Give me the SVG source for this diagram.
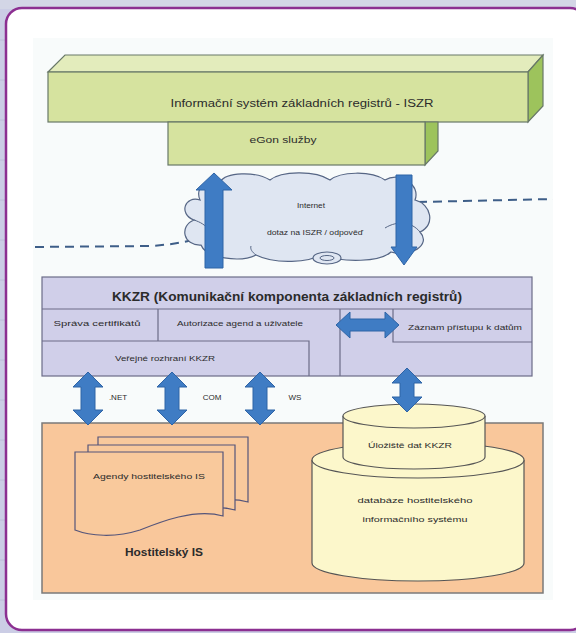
<svg xmlns="http://www.w3.org/2000/svg" width="576" height="633" viewBox="0 0 576 633">
<style>
text{font-family:"Liberation Sans",Arial,sans-serif;fill:#2b2b2b;text-anchor:middle}
.s{font-size:8px}
.b{font-weight:bold}
.arr{fill:#3f7cc4;stroke:#2f64a6;stroke-width:1}
.grn{fill:#d6e39f;stroke:#687868;stroke-width:1.2}
.kk{fill:#d0cfe9;stroke:#6c6c88;stroke-width:1.2;fill-opacity:1}
.ln{stroke:#6c6c88;stroke-width:1.2;fill:none}
.cyl{fill:#fcf7cb;stroke:#555;stroke-width:1.2}
.doc{fill:#f9c99c;stroke:#55557a;stroke-width:1.2}
.dash{fill:none;stroke:#3e5e88;stroke-width:2;stroke-dasharray:9 6}
</style>
<rect width="576" height="633" fill="#cbcde5"/>
<rect x="0" y="0" width="576" height="9" fill="#d3d6e6"/>
<g stroke="#b7b9d5" stroke-width="0.8">
<line x1="0" y1="40" x2="6" y2="40"/><line x1="0" y1="80" x2="6" y2="80"/><line x1="0" y1="120" x2="6" y2="120"/><line x1="0" y1="160" x2="6" y2="160"/><line x1="0" y1="200" x2="6" y2="200"/><line x1="0" y1="240" x2="6" y2="240"/><line x1="0" y1="280" x2="6" y2="280"/><line x1="0" y1="320" x2="6" y2="320"/><line x1="0" y1="360" x2="6" y2="360"/><line x1="0" y1="400" x2="6" y2="400"/><line x1="0" y1="440" x2="6" y2="440"/><line x1="0" y1="480" x2="6" y2="480"/><line x1="0" y1="520" x2="6" y2="520"/><line x1="0" y1="560" x2="6" y2="560"/><line x1="0" y1="600" x2="6" y2="600"/>
</g>
<rect x="6" y="8" width="580" height="622" rx="16" fill="#ffffff" stroke="#8c2f91" stroke-width="2.5"/>
<rect x="33" y="38" width="520" height="562" fill="#f8fbfb"/>

<g id="iszr">
<polygon class="grn" points="48,72 65,55 543,55 528,72" style="fill:#e3ecbc"/>
<polygon class="grn" points="528,72 543,55 543,106 528,122" style="fill:#9dc35c"/>
<rect class="grn" x="48" y="72" width="480" height="50"/>
<text x="302" y="107" font-size="10" textLength="263" lengthAdjust="spacingAndGlyphs">Informační systém základních registrů - ISZR</text>
</g>
<g id="egon">
<polygon class="grn" points="425,122 438,122 438,151 425,165" style="fill:#9dc35c"/>
<rect class="grn" x="168" y="122" width="257" height="43"/>
<text x="283" y="143" font-size="9" textLength="67" lengthAdjust="spacingAndGlyphs">eGon služby</text>
</g>

<g id="network">
<path class="dash" d="M35,247 L150,246 Q182,244 198,238"/>
<path class="dash" d="M418,202 L553,199"/>
</g>

<g id="internet">
<path d="M200,200 C185,195 178,214 194,220 C179,226 183,246 201,245 C206,258 240,263 256,255 C276,265 310,262 320,255 C345,263 380,262 391,252 C410,258 432,245 420,232 C436,225 431,204 415,200 C421,185 400,171 385,180 C370,170 340,172 330,180 C315,170 281,171 270,180 C255,171 226,172 220,182 C205,180 195,188 200,200 Z" fill="#dfe6f2" stroke="#566685" stroke-width="1.2"/>
<path d="M385,228 C398,220 412,222 420,232 M194,220 C200,222 206,225 208,230 M256,255 C252,252 250,249 251,246" fill="none" stroke="#566685" stroke-width="1"/>
<ellipse cx="327" cy="258" rx="14" ry="6" fill="#dfe6f2" stroke="#566685" stroke-width="1.2"/>
<ellipse cx="327" cy="258" rx="7" ry="2.5" fill="none" stroke="#566685" stroke-width="1"/>
<text class="s" x="311" y="208" textLength="28" lengthAdjust="spacingAndGlyphs">Internet</text>
<text class="s" x="315" y="235" textLength="96" lengthAdjust="spacingAndGlyphs">dotaz na ISZR / odpověď</text>
</g>

<g id="kkzr">
<rect class="kk" x="42" y="277" width="490" height="99"/>
<path class="ln" d="M42,309 H532 M158,309 V341 M42,341 H309 V376 M340,309 V376 M393,309 V342 H532"/>
<text class="b" x="287" y="301" font-size="12.5" textLength="350" lengthAdjust="spacingAndGlyphs">KKZR (Komunikační komponenta základních registrů)</text>
<text class="s" x="97" y="326" textLength="87" lengthAdjust="spacingAndGlyphs">Správa certifikátů</text>
<text class="s" x="240" y="326" textLength="126" lengthAdjust="spacingAndGlyphs">Autorizace agend a uživatele</text>
<text class="s" x="465" y="330" textLength="114" lengthAdjust="spacingAndGlyphs">Záznam přístupu k datům</text>
<text class="s" x="165" y="361" textLength="100" lengthAdjust="spacingAndGlyphs">Veřejné rozhraní KKZR</text>
</g>

<g id="hostitelsky-is">
<rect x="42" y="423" width="501" height="170" fill="#f9c79b" stroke="#7a7a7a" stroke-width="1.5"/>
<text class="b" x="164" y="556" font-size="11" textLength="78" lengthAdjust="spacingAndGlyphs">Hostitelský IS</text>
</g>

<g id="agendy">
<path class="doc" d="M98,437 H248 V502 C220,494 185,508 165,516 C140,524 115,522 98,516 Z"/>
<path class="doc" d="M88,445 H235 V510 C207,502 172,516 152,524 C128,532 104,530 88,524 Z"/>
<path class="doc" d="M75,452 H223 V516 C195,508 160,522 140,530 C115,538 90,536 75,530 Z"/>
<text class="s" x="149" y="479" textLength="112" lengthAdjust="spacingAndGlyphs">Agendy hostitelského IS</text>
</g>

<g id="databaze">
<path class="cyl" d="M312,460 V563 A106,18 0 0 0 524,563 V460"/>
<ellipse class="cyl" cx="418" cy="460" rx="106" ry="18"/>
<text class="s" x="415" y="503" textLength="115" lengthAdjust="spacingAndGlyphs">databáze hostitelského</text>
<text class="s" x="415" y="522" textLength="105" lengthAdjust="spacingAndGlyphs">informačního systému</text>
</g>

<g id="uloziste">
<path class="cyl" d="M343,416 V457 A71,12 0 0 0 485,457 V416"/>
<ellipse class="cyl" cx="414" cy="416" rx="71" ry="12"/>
<text class="s" x="410" y="448" textLength="84" lengthAdjust="spacingAndGlyphs">Úložiště dat KKZR</text>
</g>

<g id="connectors">
<polygon class="arr" points="214,173 232,190 223,190 223,268 205,268 205,190 196,190"/>
<polygon class="arr" points="396,175 412,175 412,247 417,247 404,265 391,247 396,247"/>
<polygon class="arr" points="336,325 350,312 350,319 385,319 385,312 399,325 385,338 385,331 350,331 350,338"/>
<polygon class="arr" points="88,372 103,387 95,387 95,410 103,410 88,425 73,410 81,410 81,387 73,387"/>
<polygon class="arr" points="172,372 187,387 179,387 179,410 187,410 172,425 157,410 165,410 165,387 157,387"/>
<polygon class="arr" points="260,372 275,387 267,387 267,410 275,410 260,425 245,410 253,410 253,387 245,387"/>
<polygon class="arr" points="407,368 422,383 414,383 414,397 422,397 407,412 392,397 400,397 400,383 392,383"/>
<text class="s" x="118" y="400">.NET</text>
<text class="s" x="212" y="400">COM</text>
<text class="s" x="295" y="400">WS</text>
</g>
</svg>
